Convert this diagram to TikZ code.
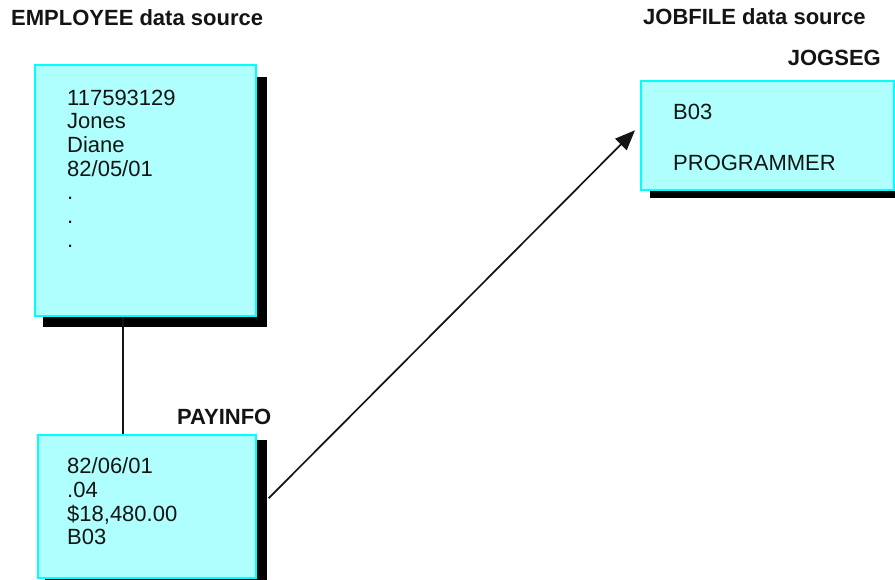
\documentclass[tikz,border=0pt]{standalone}
\usepackage{fontspec}
\setmainfont{Liberation Sans}
\usetikzlibrary{arrows.meta}
\definecolor{boxfill}{HTML}{B0FFFF}
\definecolor{boxline}{HTML}{00FFFF}
\definecolor{ink}{HTML}{141414}
\begin{document}
\begin{tikzpicture}[x=1pt,y=-1pt,
  rec/.style={draw=boxline,fill=boxfill,line width=1.6pt,anchor=north west,inner sep=0pt},
  shade/.style={fill=black},
  lbl/.style={font=\bfseries\fontsize{22}{26}\selectfont,text=ink,inner sep=0pt},
  body/.style={font=\fontsize{22}{23.7}\selectfont,text=ink,align=left,anchor=north west,inner sep=0pt},
  conn/.style={draw=ink,line width=1.7pt}]
\useasboundingbox (0,0) rectangle (895,580);
% shadows
\fill[shade] (43,77) rectangle (267,327);
\fill[shade] (45,440) rectangle (267,590);
\fill[shade] (650,90) rectangle (900,198);
% boxes
\node[rec,minimum width=221pt,minimum height=251pt] (emp) at (34,64) {};
\node[rec,minimum width=218pt,minimum height=143pt] (pay) at (37,434) {};
\node[rec,minimum width=253pt,minimum height=109pt] (job) at (640,80) {};
% box texts
\node[body] (emptxt) at (67,89.5) {117593129\\Jones\\Diane\\82/05/01\\.\\.\\.};
\node[body] (paytxt) at (67,457.5) {82/06/01\\.04\\\$18,480.00\\B03};
\node[body,anchor=base west] (jobB) at (673,120) {B03};
\node[body,anchor=base west] (jobP) at (673,171) {PROGRAMMER};
% labels
\node[lbl,anchor=west] (emplbl) at (11,18) {EMPLOYEE data source};
\node[lbl,anchor=west] (joblbl) at (643,17) {JOBFILE data source};
\node[lbl,anchor=east] (jogseg) at (881,58) {JOGSEG};
\node[lbl,anchor=west] (paylbl) at (177,417) {PAYINFO};
% connectors
\draw[conn] ([xshift=89pt]emp.south west) -- ([xshift=86pt]pay.north west);
\draw[conn,-{Triangle[length=20pt,width=16pt]}] ([xshift=12pt,yshift=8pt]pay.east) -- ([xshift=-5pt,yshift=5pt]job.west);
\end{tikzpicture}
\end{document}
